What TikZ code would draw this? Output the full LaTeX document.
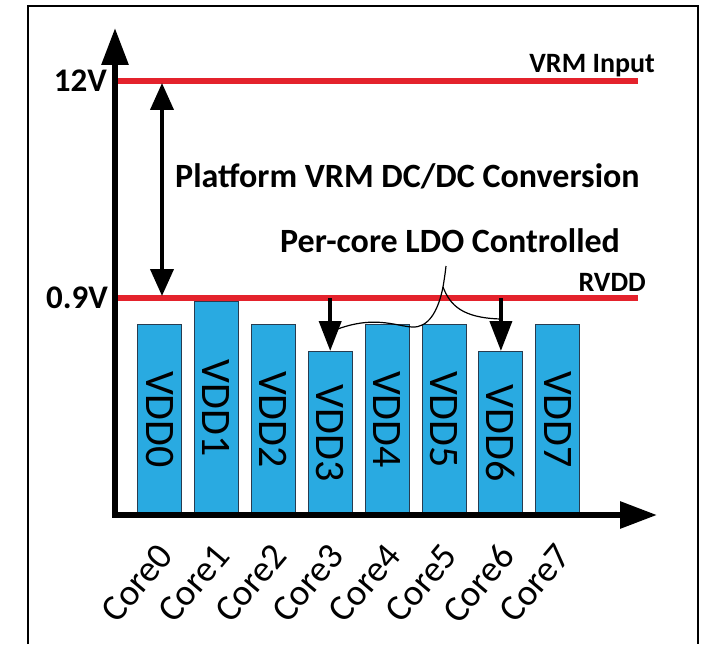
\documentclass[tikz,border=0pt]{standalone}
\usepackage{fontspec}
\setmainfont{Carlito}
\usetikzlibrary{arrows.meta,calc}
\definecolor{railred}{RGB}{228,34,44}
\definecolor{barblue}{RGB}{41,170,225}
\definecolor{baredge}{RGB}{40,60,80}
\begin{document}
\begin{tikzpicture}[x=1pt,y=1pt,
  frameline/.style={line width=2.5pt, draw=black},
  rail/.style={line width=6.5pt, draw=railred},
  axisln/.style={line width=6pt, -{Triangle[length=37pt,width=26pt]}},
  dblarrow/.style={line width=4pt, {Triangle[length=27pt,width=23pt]}-{Triangle[length=27pt,width=23pt]}},
  ldoarrow/.style={line width=4pt, -{Triangle[length=30pt,width=22pt]}},
  bar/.style={draw=baredge, line width=1pt, fill=barblue, minimum width=44pt, inner sep=0pt, anchor=south},
  vddlabel/.style={rotate=-90, font=\fontsize{42}{42}\selectfont, inner sep=0pt},
  corelabel/.style={rotate=50, anchor=east, font=\fontsize{37}{37}\selectfont, inner sep=0pt},
  bigbold/.style={font=\bfseries\fontsize{34}{34}\selectfont, inner sep=0pt},
  smallbold/.style={font=\bfseries\fontsize{28}{28}\selectfont, inner sep=0pt},
  voltlabel/.style={font=\bfseries\fontsize{33}{33}\selectfont, inner sep=0pt, anchor=east},
  thinline/.style={line width=1.2pt, draw=black}
]
\useasboundingbox (0,0) rectangle (708,-644);
\fill[white] (0,0) rectangle (708,-644);
% frame
\draw[frameline] (28,-644) -- (28,-6) -- (698,-6) -- (698,-644);
% bars
\foreach \i/\tp in {0/325,1/302,2/325,3/352,4/325,5/325,6/352,7/325} {
  \pgfmathsetmacro\xc{159.5+56.9*\i}
  \pgfmathsetmacro\hh{515-\tp}
  \node[bar, minimum height=\hh pt] (b\i) at (\xc,-515) {};
  \node[vddlabel] (v\i) at (b\i.center) {VDD\i};
  \node[corelabel] (c\i) at (\xc+6,-549) {Core\i};
}
% coordinates
\coordinate (o) at (115,-515);
\coordinate (ytip) at (115,-28);
\coordinate (xstart) at (112,-515);
\coordinate (xtip) at (657,-515);
\coordinate (r12a) at (115,-81);
\coordinate (r12b) at (638,-81);
\coordinate (r09a) at (115,-298);
\coordinate (r09b) at (638,-298);
% rails
\draw[rail] (r12a) -- (r12b);
\draw[rail] (r09a) -- (r09b);
% axes
\draw[axisln] (o) -- (ytip);
\draw[axisln] (xstart) -- (xtip);
% conversion double arrow
\coordinate (da) at (162,-83);
\coordinate (db) at (162,-296);
\draw[dblarrow] (da) -- (db);
% LDO arrows
\draw[ldoarrow] (b3.north |- r09a) -- (b3.north);
\draw[ldoarrow] (b6.north |- r09a) -- (b6.north);
% labels
\node[smallbold, anchor=base east] (vrmin) at (655,-73) {VRM Input};
\node[smallbold, anchor=base east] (rvdd) at (646,-291) {RVDD};
\node[voltlabel] (v12) at (107,-81) {12V};
\node[voltlabel] (v09) at (108,-298) {0.9V};
\node[bigbold, anchor=base west] (conv) at (175,-188) {Platform VRM DC/DC Conversion};
\node[bigbold, anchor=base west] (ldo) at (280,-252) {Per-core LDO Controlled};
% LDO pointer curves
\coordinate (lt) at (446,-266);
\coordinate (lj) at (443,-287);
\coordinate (a3) at ($(b3.north)+(0,19)$);
\coordinate (a6) at ($(b6.north)+(0,32)$);
\draw[thinline] (lt) .. controls (445,-275) and (444,-281) .. (lj);
\draw[thinline] (lj) .. controls (438,-312) and (428,-328) .. (412,-327)
                     .. controls (395,-326) and (372,-314) .. (b3.north |- a3);
\draw[thinline] (lj) .. controls (450,-305) and (462,-318) .. (b6.north |- a6);
\end{tikzpicture}
\end{document}
